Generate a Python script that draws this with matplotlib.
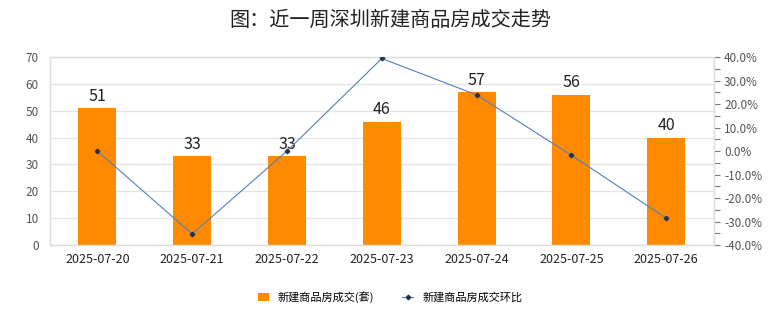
import matplotlib.pyplot as plt
from matplotlib.ticker import MultipleLocator, FuncFormatter

plt.rcParams['font.family'] = ['Noto Sans CJK SC', 'DejaVu Sans']

dates = ['2025-07-20', '2025-07-21', '2025-07-22', '2025-07-23',
         '2025-07-24', '2025-07-25', '2025-07-26']
deals = [51, 33, 33, 46, 57, 56, 40]
# 环比 (%)
mom = [0.0, -35.3, 0.0, 39.4, 23.9, -1.8, -28.6]

fig = plt.figure(figsize=(7.8, 3.28), dpi=100)
ax = fig.add_axes([0.064, 0.253, 0.851, 0.573])
x = range(len(dates))

bars = ax.bar(x, deals, width=0.4, color='#ff8a00', zorder=2, label='新建商品房成交(套)')
for xi, v in zip(x, deals):
    ax.text(xi, v + 1.2, str(v), ha='center', va='bottom', fontsize=11.5, color='#222222')

ax.set_ylim(0, 70)
ax.set_xlim(-0.5, len(dates) - 0.5)
ax.yaxis.set_major_locator(MultipleLocator(10))
ax.grid(axis='y', color='#e4e4e4', linewidth=0.9, zorder=0)
ax.set_xticks(list(x))
ax.set_xticklabels(dates, fontsize=9, color='#222222')
ax.tick_params(axis='x', length=0, pad=6)
ax.tick_params(axis='y', length=0, labelsize=8.5, colors='#555555', pad=8)

ax2 = ax.twinx()
line, = ax2.plot(x, mom, color='#4f81bd', linewidth=0.8, marker='D', markersize=2.3,
                 markerfacecolor='#1f3550', markeredgecolor='#1f3550', zorder=3,
                 label='新建商品房成交环比')
ax2.set_ylim(-40, 40)
ax2.yaxis.set_major_locator(MultipleLocator(10))
ax2.yaxis.set_minor_locator(MultipleLocator(5))
ax2.yaxis.set_major_formatter(FuncFormatter(lambda v, p: f'{v:.1f}%'))
ax2.tick_params(axis='y', which='both', length=4, width=0.8, color='#777777',
                labelsize=8.5, labelcolor='#555555', direction='out')

for a in (ax, ax2):
    for s in a.spines.values():
        s.set_color('#dddddd')
        s.set_linewidth(0.9)

fig.suptitle('图：近一周深圳新建商品房成交走势', fontsize=14.5, y=0.97,
             color='#222222', fontweight='medium')

fig.legend(handles=[bars, line], loc='center', bbox_to_anchor=(0.5, 0.095), ncol=2,
           frameon=False, fontsize=8, handlelength=1.0, columnspacing=2.5,
           handletextpad=0.8)

fig.savefig('out.png', dpi=100, facecolor='white')
